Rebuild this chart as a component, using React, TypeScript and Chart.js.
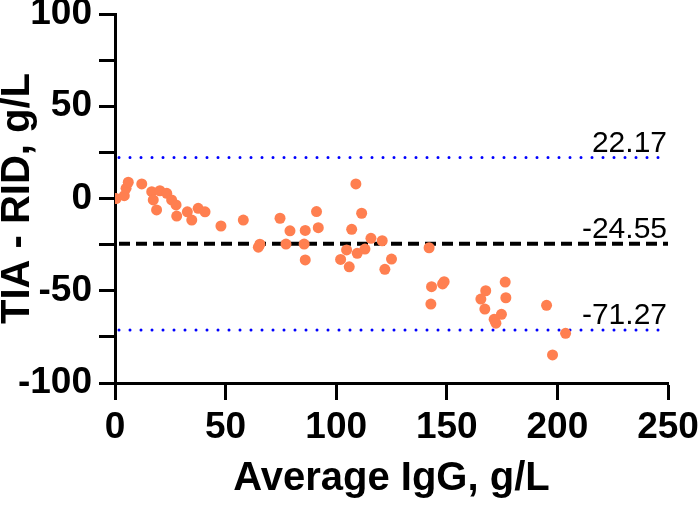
import React, { useEffect, useRef } from "react";
import { Chart, registerables } from "chart.js";

Chart.register(...registerables);

// Average IgG (g/L)
const xValues = [
  0.5, 4.2, 5.0, 6.0, 12.1, 16.6, 20.3, 23.4, 17.3, 18.8, 25.6, 27.6, 27.9, 32.7, 34.7, 37.6, 40.7,
  47.9, 58.0, 65.5, 64.8, 74.6, 79.1, 77.3, 86.0, 85.5, 86.0, 91.1, 91.9, 108.9, 111.5, 107.0, 115.7,
  120.8, 104.7, 102.0, 105.9, 109.5, 113.0, 122.0, 125.0, 142.0, 143.1, 148.1, 148.8, 142.8, 167.6,
  165.4, 167.2, 176.4, 176.7, 174.7, 171.4, 172.2, 195.1, 203.7, 197.8,
];
// TIA - RID (g/L)
const yValues = [
  0, 1.5, 5.5, 8.8, 7.9, 3.7, 4.2, 2.8, -0.8, -6.2, -0.8, -3.5, -9.5, -7.2, -11.7, -5.3, -7.2,
  -14.9, -11.7, -24.8, -26.4, -10.7, -17.5, -24.7, -17.3, -24.7, -33.3, -7.1, -15.8, 7.9, -8.0, -16.7, -21.6,
  -22.9, -27.9, -33.0, -37.0, -29.7, -27.4, -38.4, -32.8, -26.7, -47.8, -46.3, -45.1, -57.2, -50.0,
  -54.5, -59.9, -45.3, -53.8, -62.8, -65.5, -67.6, -57.9, -73.1, -84.8,
];

const meanDiff = -24.55;
const upperLimit = 22.17;
const lowerLimit = -71.27;

const xTitle = "Average IgG, g/L";
const yTitle = "TIA - RID, g/L";

const refLinesPlugin = {
  id: "refLines",
  beforeDatasetsDraw(chart: any) {
    const { ctx, chartArea, scales } = chart;
    const left = chartArea.left;
    const right = chartArea.right;
    const drawLine = (v: number, kind: "dot" | "dash") => {
      const y = scales.y.getPixelForValue(v);
      ctx.save();
      ctx.beginPath();
      if (kind === "dot") {
        ctx.strokeStyle = "#0000FF";
        ctx.lineWidth = 3;
        ctx.lineCap = "round";
        ctx.setLineDash([0.01, 10.99]);
      } else {
        ctx.strokeStyle = "#000000";
        ctx.lineWidth = 4;
        ctx.lineCap = "butt";
        ctx.setLineDash([11, 6]);
      }
      ctx.moveTo(left + 4, y);
      ctx.lineTo(right, y);
      ctx.stroke();
      ctx.restore();

      ctx.save();
      ctx.fillStyle = "#000000";
      ctx.font = "30px 'Liberation Sans', Arial, sans-serif";
      ctx.textAlign = "right";
      ctx.textBaseline = "alphabetic";
      ctx.fillText(v.toFixed(2), right - 1, y - 6);
      ctx.restore();
    };
    drawLine(upperLimit, "dot");
    drawLine(meanDiff, "dash");
    drawLine(lowerLimit, "dot");
  },
};

export default function App() {
  const canvasRef = useRef<HTMLCanvasElement | null>(null);

  useEffect(() => {
    document.body.style.margin = "0";
    const canvas = canvasRef.current;
    if (!canvas) return;
    const points = xValues.map((x, i) => ({ x, y: yValues[i] }));
    const tickFont = { family: "'Liberation Sans', Arial, sans-serif", size: 37, weight: "bold" as const };
    const chart = new Chart(canvas, {
      type: "scatter",
      data: {
        datasets: [
          {
            data: points,
            backgroundColor: "#FF7F50",
            borderWidth: 0,
            pointRadius: 5.5,
            pointHoverRadius: 5.5,
            clip: 0,
          },
        ],
      },
      plugins: [refLinesPlugin],
      options: {
        animation: false,
        responsive: false,
        maintainAspectRatio: false,
        events: [],
        layout: { padding: { top: 14, right: 32, bottom: 0, left: 0 } },
        plugins: {
          legend: { display: false },
          tooltip: { enabled: false },
        },
        scales: {
          x: {
            type: "linear",
            min: 0,
            max: 250,
            z: 1,
            border: { display: true, color: "#000", width: 3 },
            grid: {
              display: true,
              drawOnChartArea: false,
              drawTicks: true,
              tickLength: 17,
              tickWidth: 3,
              color: "#000",
            },
            ticks: {
              stepSize: 50,
              autoSkip: false,
              maxRotation: 0,
              padding: 6,
              color: "#000",
              font: tickFont,
              callback: (v: any) => String(v),
            },
            title: {
              display: true,
              text: xTitle,
              color: "#000",
              font: { family: "'Liberation Sans', Arial, sans-serif", size: 40, weight: "bold", lineHeight: 1.2 },
              padding: { top: 0, bottom: 2 },
            },
            afterFit: (s: any) => {
              s.height = 122;
              s.paddingLeft = 0;
              s.paddingRight = 0;
            },
          },
          y: {
            type: "linear",
            min: -100,
            max: 100,
            z: 1,
            border: { display: true, color: "#000", width: 3 },
            grid: {
              display: true,
              drawOnChartArea: false,
              drawTicks: true,
              tickLength: 16,
              tickWidth: 3,
              color: "#000",
            },
            ticks: {
              stepSize: 25,
              autoSkip: false,
              padding: 7,
              color: "#000",
              font: tickFont,
              callback: (v: any) => (Number(v) % 50 === 0 ? String(v) : ""),
            },
            title: {
              display: true,
              text: yTitle,
              color: "#000",
              font: { family: "'Liberation Sans', Arial, sans-serif", size: 40, weight: "bold", lineHeight: 0.875 },
              padding: 0,
            },
            afterFit: (s: any) => {
              s.width = 115;
              s.paddingTop = 0;
              s.paddingBottom = 0;
            },
          },
        },
      },
    });
    return () => chart.destroy();
  }, []);

  return (
    <div style={{ width: 700, height: 505, position: "relative" }}>
      <canvas ref={canvasRef} width={700} height={505} style={{ display: "block" }} />
    </div>
  );
}
